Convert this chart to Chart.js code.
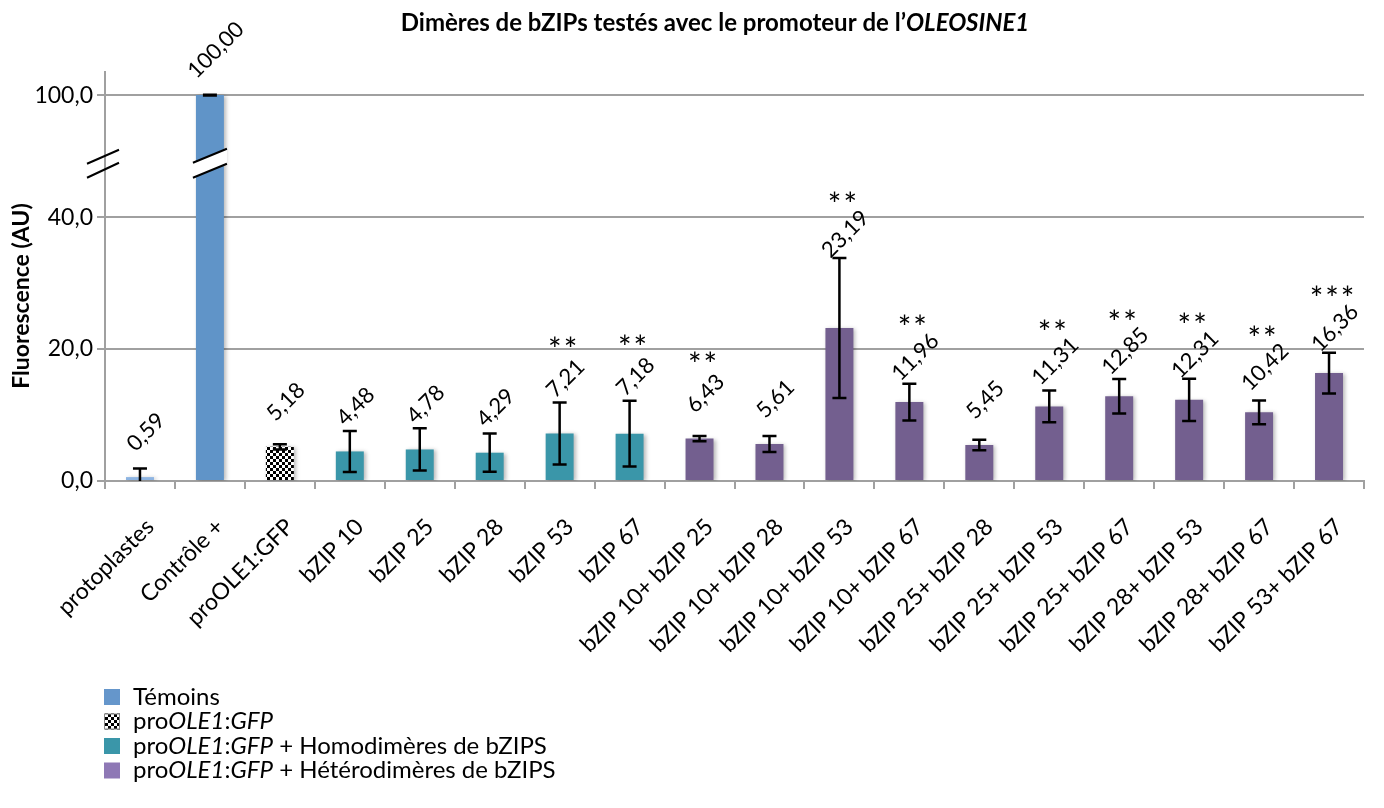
<!DOCTYPE html>
<html>
<head>
<meta charset="utf-8">
<script src="https://cdn.jsdelivr.net/npm/chart.js@4.4.1/dist/chart.umd.min.js"></script>
<style>
  html, body { margin: 0; padding: 0; background: #fff; }
  #wrap { width: 1384px; height: 808px; }
</style>
</head>
<body>
<div id="wrap"><canvas id="chart" width="1384" height="808"></canvas></div>
<script>
// données
var categories = ['protoplastes', 'Contrôle +', 'proOLE1:GFP', 'bZIP 10', 'bZIP 25', 'bZIP 28', 'bZIP 53', 'bZIP 67',
  'bZIP 10+ bZIP 25', 'bZIP 10+ bZIP 28', 'bZIP 10+ bZIP 53', 'bZIP 10+ bZIP 67', 'bZIP 25+ bZIP 28',
  'bZIP 25+ bZIP 53', 'bZIP 25+ bZIP 67', 'bZIP 28+ bZIP 53', 'bZIP 28+ bZIP 67', 'bZIP 53+ bZIP 67'];
var values = [0.59, 100, 5.18, 4.48, 4.78, 4.29, 7.21, 7.18, 6.43, 5.61, 23.19, 11.96, 5.45, 11.31, 12.85, 12.31, 10.42, 16.36];
var errors = [1.3, 0.2, 0.4, 3.1, 3.2, 2.9, 4.7, 5.0, 0.4, 1.2, 10.6, 2.8, 0.8, 2.4, 2.6, 3.2, 1.8, 3.1];
var stars = ['', '', '', '', '', '', '**', '**', '**', '', '**', '**', '', '**', '**', '**', '**', '***'];
var groups = ['proto', 'temoin', 'gfp', 'homo', 'homo', 'homo', 'homo', 'homo',
  'hetero', 'hetero', 'hetero', 'hetero', 'hetero', 'hetero', 'hetero', 'hetero', 'hetero', 'hetero'];
var yTicks = [0, 20, 40, 100];

var FONT = 'Lato, "Open Sans", sans-serif';

// axe coupé : 0-40 linéaire, puis la partie 40-100 est compressée
var BREAK_FROM = 40;
var BREAK_SCALE = 18.5 / 60;
function brk(v) {
  return v <= BREAK_FROM ? v : BREAK_FROM + (v - BREAK_FROM) * BREAK_SCALE;
}

// motif damier pour proOLE1:GFP
function checker(size) {
  var c = document.createElement('canvas');
  c.width = size * 2; c.height = size * 2;
  var g = c.getContext('2d');
  g.fillStyle = '#fff'; g.fillRect(0, 0, size * 2, size * 2);
  g.fillStyle = '#000';
  g.fillRect(0, 0, size, size);
  g.fillRect(size, size, size, size);
  return g.createPattern(c, 'repeat');
}
var checkPattern = checker(3);

var colors = {
  proto: '#8db4e2',
  temoin: '#6094c8',
  gfp: checkPattern,
  homo: '#3a96a9',
  hetero: '#735f8f'
};

var legendItems = [
  { fill: '#6596cb', parts: [['Témoins', '']] },
  { fill: checkPattern, border: '#888', parts: [['pro', ''], ['OLE1', 'italic '], [':', ''], ['GFP', 'italic ']] },
  { fill: '#3a96a9', parts: [['pro', ''], ['OLE1', 'italic '], [':', ''], ['GFP', 'italic '], [' + Homodimères de bZIPS', '']] },
  { fill: '#8e78b5', parts: [['pro', ''], ['OLE1', 'italic '], [':', ''], ['GFP', 'italic '], [' + Hétérodimères de bZIPS', '']] }
];

function fmt(v) {
  return v.toFixed(2).replace('.', ',');
}

var extras = {
  id: 'extras',
  beforeDatasetsDraw: function(chart) {
    var ctx = chart.ctx;
    ctx.save();
    ctx.shadowColor = 'rgba(0,0,0,0.28)';
    ctx.shadowBlur = 4;
    ctx.shadowOffsetX = 2;
    ctx.shadowOffsetY = 1;
  },
  afterDatasetsDraw: function(chart) {
    var ctx = chart.ctx;
    ctx.restore();
    var y = chart.scales.y;
    var meta = chart.getDatasetMeta(0);

    // coupure sur la barre Contrôle +
    var cb = meta.data[1];
    var yb = y.getPixelForValue(49.3);
    ctx.save();
    ctx.fillStyle = '#fff';
    ctx.beginPath();
    ctx.moveTo(cb.x - 17, yb + 7);
    ctx.lineTo(cb.x + 17, yb - 7);
    ctx.lineTo(cb.x + 17, yb + 8);
    ctx.lineTo(cb.x - 17, yb + 22);
    ctx.closePath();
    ctx.fill();
    ctx.strokeStyle = '#000';
    ctx.lineWidth = 2;
    ctx.beginPath();
    ctx.moveTo(cb.x - 17, yb + 7); ctx.lineTo(cb.x + 17, yb - 7);
    ctx.moveTo(cb.x - 17, yb + 22); ctx.lineTo(cb.x + 17, yb + 8);
    ctx.stroke();
    ctx.restore();

    // barres d'erreur, valeurs et étoiles
    ctx.save();
    ctx.strokeStyle = '#000';
    ctx.lineWidth = 2.5;
    meta.data.forEach(function(bar, i) {
      var v = values[i], e = errors[i];
      var top = y.getPixelForValue(brk(v + e));
      var lowV = v - e;
      var bot = y.getPixelForValue(brk(Math.max(lowV, 0)));
      ctx.beginPath();
      ctx.moveTo(bar.x, top); ctx.lineTo(bar.x, bot);
      ctx.moveTo(bar.x - 7, top); ctx.lineTo(bar.x + 7, top);
      if (lowV > 0) { ctx.moveTo(bar.x - 7, bot); ctx.lineTo(bar.x + 7, bot); }
      ctx.stroke();

      var barTop = y.getPixelForValue(brk(v));
      var cy = Math.min(barTop - 45, top - 24);
      ctx.save();
      ctx.translate(bar.x + 6, cy);
      ctx.rotate(-Math.PI / 4);
      ctx.fillStyle = '#000';
      ctx.font = '22px ' + FONT;
      ctx.textAlign = 'center';
      ctx.textBaseline = 'middle';
      ctx.fillText(fmt(v), 0, 0);
      ctx.restore();

      if (stars[i]) {
        ctx.save();
        ctx.fillStyle = '#000';
        ctx.font = '32px ' + FONT;
        ctx.letterSpacing = '2px';
        ctx.textAlign = 'center';
        ctx.textBaseline = 'middle';
        ctx.fillText(stars[i], bar.x + 4, cy - 28);
        ctx.restore();
      }

      // étiquette de catégorie, inclinée à 45°
      ctx.save();
      ctx.translate(bar.x + 10, chart.chartArea.bottom + 42);
      ctx.rotate(-Math.PI / 4);
      ctx.fillStyle = '#000';
      ctx.font = '23px ' + FONT;
      ctx.textAlign = 'right';
      ctx.textBaseline = 'middle';
      ctx.fillText(categories[i], 0, 0);
      ctx.restore();
    });
    ctx.restore();
  },
  afterDraw: function(chart) {
    var ctx = chart.ctx;
    var y = chart.scales.y;
    var ax = chart.chartArea.left;

    // coupure sur l'axe
    var yb = y.getPixelForValue(49.3);
    ctx.save();
    ctx.strokeStyle = '#000';
    ctx.lineWidth = 2;
    ctx.beginPath();
    ctx.moveTo(ax - 18, yb + 8); ctx.lineTo(ax + 14, yb - 6);
    ctx.moveTo(ax - 18, yb + 22); ctx.lineTo(ax + 14, yb + 7);
    ctx.stroke();
    ctx.restore();

    // titre
    ctx.save();
    ctx.fillStyle = '#000';
    ctx.textBaseline = 'middle';
    var t1 = 'Dimères de bZIPs testés avec le promoteur de l\u2019';
    var t2 = 'OLEOSINE1';
    ctx.font = 'bold 24px ' + FONT;
    var w1 = ctx.measureText(t1).width;
    ctx.font = 'italic bold 24px ' + FONT;
    var w2 = ctx.measureText(t2).width;
    var x0 = 715 - (w1 + w2) / 2;
    ctx.font = 'bold 24px ' + FONT;
    ctx.fillText(t1, x0, 23);
    ctx.font = 'italic bold 24px ' + FONT;
    ctx.fillText(t2, x0 + w1, 23);
    ctx.restore();

    // titre de l'axe y
    ctx.save();
    ctx.translate(22, 296);
    ctx.rotate(-Math.PI / 2);
    ctx.fillStyle = '#000';
    ctx.font = 'bold 23px ' + FONT;
    ctx.textAlign = 'center';
    ctx.textBaseline = 'middle';
    ctx.fillText('Fluorescence (AU)', 0, 0);
    ctx.restore();

    // légende
    ctx.save();
    legendItems.forEach(function(item, k) {
      var cy = 697 + k * 24.5;
      ctx.fillStyle = item.fill;
      ctx.fillRect(104, cy - 8, 16, 16);
      if (item.border) {
        ctx.strokeStyle = item.border;
        ctx.lineWidth = 1;
        ctx.strokeRect(104.5, cy - 7.5, 15, 15);
      }
      var x = 133;
      ctx.fillStyle = '#000';
      ctx.textBaseline = 'middle';
      item.parts.forEach(function(p) {
        ctx.font = p[1] + '24px ' + FONT;
        ctx.fillText(p[0], x, cy);
        x += ctx.measureText(p[0]).width;
      });
    });
    ctx.restore();
  }
};

new Chart(document.getElementById('chart'), {
  type: 'bar',
  data: {
    labels: categories,
    datasets: [{
      data: values.map(brk),
      backgroundColor: groups.map(function(g) { return colors[g]; }),
      borderWidth: 0,
      barPercentage: 0.4,
      categoryPercentage: 1
    }]
  },
  options: {
    responsive: false,
    animation: false,
    layout: { padding: { top: 72, right: 20, left: 0, bottom: 0 } },
    plugins: {
      legend: { display: false },
      tooltip: { enabled: false },
      title: { display: false }
    },
    scales: {
      x: {
        afterFit: function(s) { s.height = 327; },
        grid: {
          display: true,
          drawOnChartArea: false,
          color: '#a0a0a0',
          lineWidth: 2,
          tickLength: 8
        },
        border: { color: '#a0a0a0', width: 2 },
        ticks: {
          color: 'rgba(0,0,0,0)',
          font: { family: FONT, size: 23 },
          minRotation: 45,
          maxRotation: 45,
          autoSkip: false
        }
      },
      y: {
        min: 0,
        max: 62,
        afterFit: function(s) { s.width = 105; },
        afterBuildTicks: function(s) {
          s.ticks = yTicks.map(function(v) { return { value: brk(v) }; });
        },
        grid: {
          color: '#a0a0a0',
          lineWidth: 2,
          tickLength: 8
        },
        border: { color: '#a0a0a0', width: 2 },
        ticks: {
          color: '#000',
          font: { family: FONT, size: 23 },
          padding: 4,
          callback: function(val, idx) { return yTicks[idx].toFixed(1).replace('.', ','); }
        }
      }
    }
  },
  plugins: [extras]
});
</script>
</body>
</html>
